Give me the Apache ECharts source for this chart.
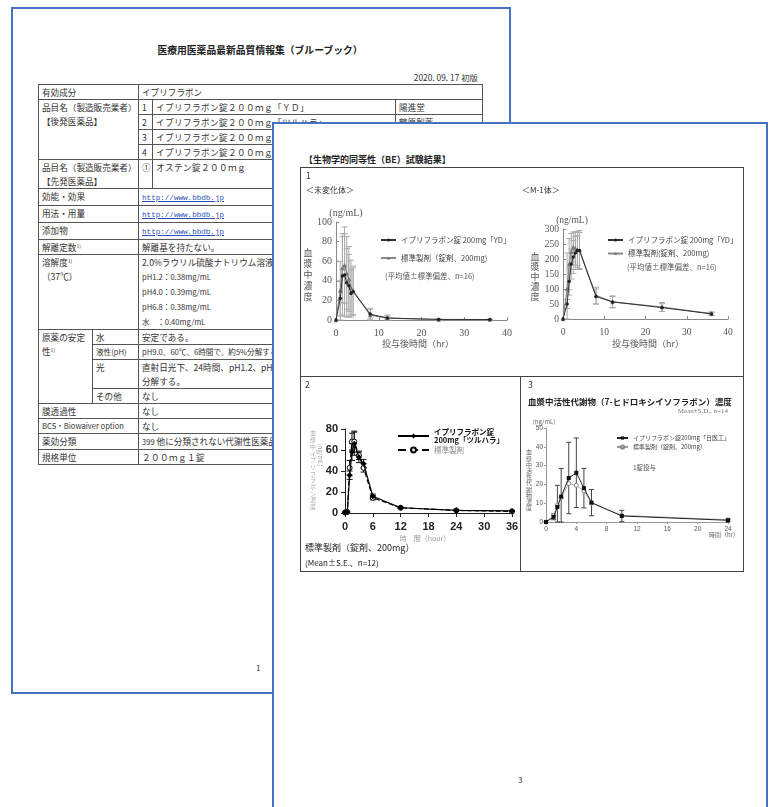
<!DOCTYPE html>
<html>
<head>
<meta charset="utf-8">
<script src="https://cdn.jsdelivr.net/npm/echarts@6/dist/echarts.min.js"></script>
<style>
  body { margin: 0; width: 769px; height: 807px; overflow: hidden; background: #fff; position: relative;
         font-family: "Noto Sans CJK JP", sans-serif; color: #333; }
  .abs { position: absolute; white-space: nowrap; }
  #back { left: 11px; top: 7px; width: 496px; height: 683px; border: 2px solid #4472c4; background: #fff; }
  #front { left: 272px; top: 122px; width: 492px; height: 700px; border: 2px solid #4472c4; border-bottom: none; background: #fff; }
  #tbl { position: absolute; left: 38px; top: 84px; width: 444px; border-collapse: collapse; table-layout: fixed;
         font-size: 8.6px; line-height: 14px; color: #333; }
  #tbl td { border: 1px solid #555; padding: 0 0 0 3px; white-space: nowrap; overflow: hidden; vertical-align: top; }
  #tbl .wide { letter-spacing: 0.4px; }
  #tbl a { color: #2a4fb5; font-family: "Liberation Mono", monospace; font-size: 7.6px; text-decoration: underline; }
  #tbl sup { font-size: 5px; vertical-align: 3px; line-height: 0; }
  #tbl .sm { font-size: 7.6px; }
  #frame { left: 300px; top: 167px; width: 442px; height: 403px; border: 1px solid #444; }
  #ch { position: absolute; left: 300px; top: 167px; width: 444px; height: 405px; }
</style>
</head>
<body>

<!-- back page -->
<div id="back" class="abs"></div>
<div class="abs" style="left:110px;top:44px;width:300px;text-align:center;font-size:9.8px;font-weight:bold;line-height:12px;color:#222">医療用医薬品最新品質情報集（ブルーブック）</div>
<div class="abs" style="left:360px;top:71px;width:118px;text-align:right;font-size:8.4px;line-height:12px">2020. 09. 17 初版</div>
<table id="tbl">
  <colgroup><col style="width:54px"><col style="width:46px"><col style="width:14px"><col style="width:243px"><col style="width:87px"></colgroup>
  <tr><td colspan="2">有効成分</td><td colspan="3">イプリフラボン</td></tr>
  <tr><td colspan="2" rowspan="4">品目名（製造販売業者）<br>【後発医薬品】</td><td>1</td><td class="wide">イプリフラボン錠２００ｍｇ「ＹＤ」</td><td>陽進堂</td></tr>
  <tr><td>2</td><td class="wide">イプリフラボン錠２００ｍｇ「ツルハラ」</td><td>鶴原製薬</td></tr>
  <tr><td>3</td><td class="wide">イプリフラボン錠２００ｍｇ「日医工」</td><td>日医工</td></tr>
  <tr><td>4</td><td class="wide">イプリフラボン錠２００ｍｇ「サワイ」</td><td>沢井製薬</td></tr>
  <tr><td colspan="2">品目名（製造販売業者）<br>【先発医薬品】</td><td>①</td><td class="wide">オステン錠２００ｍｇ</td><td>武田テバ薬品</td></tr>
  <tr><td colspan="2">効能・効果</td><td colspan="3"><a>http://www.bbdb.jp</a></td></tr>
  <tr><td colspan="2">用法・用量</td><td colspan="3"><a>http://www.bbdb.jp</a></td></tr>
  <tr><td colspan="2">添加物</td><td colspan="3"><a>http://www.bbdb.jp</a></td></tr>
  <tr><td colspan="2">解離定数<sup>1)</sup></td><td colspan="3">解離基を持たない。</td></tr>
  <tr><td colspan="2">溶解度<sup>1)</sup><br>（37℃）</td><td colspan="3">2.0%ラウリル硫酸ナトリウム溶液：0.41mg/mL<br><span class="sm">pH1.2：0.38mg/mL<br>pH4.0：0.39mg/mL<br>pH6.8：0.38mg/mL<br>水　：0.40mg/mL</span></td></tr>
  <tr><td rowspan="4">原薬の安定<br>性<sup>1)</sup></td><td>水</td><td colspan="3">安定である。</td></tr>
  <tr><td class="sm">液性(pH)</td><td colspan="3" class="sm">pH9.0、60℃、6時間で、約5%分解する。</td></tr>
  <tr><td>光</td><td colspan="3">直射日光下、24時間、pH1.2、pH6.8で約10%<br>分解する。</td></tr>
  <tr><td>その他</td><td colspan="3">なし</td></tr>
  <tr><td colspan="2">膜透過性</td><td colspan="3">なし</td></tr>
  <tr><td colspan="2" class="sm">BCS・Biowaiver option</td><td colspan="3">なし</td></tr>
  <tr><td colspan="2">薬効分類</td><td colspan="3"><span class="sm">399</span> 他に分類されない代謝性医薬品</td></tr>
  <tr><td colspan="2">規格単位</td><td colspan="3" class="wide">２００ｍｇ１錠</td></tr>
</table>
<div class="abs" style="left:256px;top:662px;font-size:8px;line-height:12px">1</div>

<!-- front page -->
<div id="front" class="abs"></div>
<div class="abs" style="left:304px;top:154px;font-size:9px;font-weight:bold;line-height:12px;color:#222">【生物学的同等性（BE）試験結果】</div>
<div id="frame" class="abs"></div>
<div class="abs" style="left:300px;top:376px;width:444px;height:1px;background:#444"></div>
<div class="abs" style="left:520px;top:376px;width:1px;height:195px;background:#444"></div>
<div class="abs" style="left:518px;top:774px;font-size:8px;line-height:12px">3</div>
<div id="ch"></div>

<script>
// 1: 未変化体 / M-1体 (平均値±標準偏差、n=16)
const t1 = [0, 1, 1.5, 2, 2.5, 3, 3.5, 4, 8, 12, 24, 36];
const parentYD = [0, 22, 45, 46, 38, 35, 27, 29, 6, 2, 0.6, 0.5];
const parentYDsd = [0, 18, 40, 42, 35, 32, 24, 24, 5, 2, 0.5, 0.3];
const parentStd = [0, 30, 53, 56, 48, 42, 33, 30, 5, 2, 0.5, 0.5];
const parentStdSd = [0, 30, 35, 39, 37, 33, 28, 25, 7, 3, 0.5, 0.3];
const m1YD = [0, 50, 125, 183, 207, 220, 228, 228, 75, 57, 38, 17];
const m1YDsd = [0, 15, 45, 50, 55, 55, 50, 60, 25, 18, 13, 5];
const m1Std = [0, 100, 183, 225, 240, 235, 232, 230, 78, 57, 40, 18];
const m1StdSd = [0, 120, 85, 60, 50, 55, 60, 65, 28, 20, 15, 6];
const xTicks1 = [0, 10, 20, 30, 40];
const yTicksParent = [0, 20, 40, 60, 80, 100];
const yTicksM1 = [0, 50, 100, 150, 200, 250, 300];

// 2: ツルハラ (Mean±S.E., n=12)
const t2 = [0, 0.5, 1, 1.5, 2, 3, 4, 6, 12, 24, 36];
const tsuruhara = [0.8, 1, 36, 58, 66, 53, 47, 16, 5, 2.5, 2];
const tsuruharaSe = [0, 0, 4, 8, 11, 5, 4, 2, 0.6, 0.3, 0.2];
const std2 = [0.5, 1, 43, 68, 68, 55, 43, 14.5, 5, 2.5, 1.5];
const std2Se = [0, 0, 7, 8, 10, 4, 4, 2, 0.6, 0.3, 0.2];
const xTicks2 = [0, 6, 12, 18, 24, 30, 36];
const yTicks2 = [0, 20, 40, 60, 80];

// 3: 7-ヒドロキシイソフラボン (Mean±S.D., n=14)
const t3 = [0, 1, 1.5, 2, 3, 4, 5, 6, 10, 24];
const nichiiko = [0, 2.7, 8, 13.5, 23.4, 26.2, 18, 10.3, 3.2, 0.9];
const nichiikoSd = [0, 1.5, 11.5, 15, 19, 18.5, 10.5, 7, 3, 0.8];
const std3 = [0, 3.5, 9, 13, 20.5, 19.5, 16.5, 10, 3.5, 1.2];
const xTicks3 = [0, 4, 8, 12, 16, 20, 24];
const yTicks3 = [0, 10, 20, 30, 40, 50];

const nameYD = 'イプリフラボン錠 200mg「YD」';
const nameStd1a = '標準製剤（錠剤、200mg)';
const nameStd1b = '標準製剤(錠剤、200mg)';
const nameTsu = 'イプリフラボン錠\n200mg「ツルハラ」';
const nameStd2 = '標準製剤';
const nameNichi = 'イプリフラボン錠200mg「日医工」';
const nameStd3 = '標準製剤（錠剤、200mg）';

const jp = '"Noto Sans CJK JP", sans-serif';
const serif = '"Liberation Serif", serif';

function pairs(xs, ys) { return xs.map((x, i) => [x, ys[i]]); }

function errBars(idx, xs, ys, es, color, cap) {
  return {
    type: 'custom', xAxisIndex: idx, yAxisIndex: idx, z: 1, silent: true,
    data: xs.map((x, i) => [x, ys[i], es[i]]),
    encode: { x: 0, y: 1 },
    renderItem(params, api) {
      const x = api.value(0), y = api.value(1), e = api.value(2);
      if (!e) return null;
      const hi = api.coord([x, y + e]);
      const lo = api.coord([x, Math.max(0, y - e)]);
      const st = { stroke: color, lineWidth: 1 };
      return { type: 'group', children: [
        { type: 'line', shape: { x1: hi[0], y1: hi[1], x2: lo[0], y2: lo[1] }, style: st },
        { type: 'line', shape: { x1: hi[0] - cap, y1: hi[1], x2: hi[0] + cap, y2: hi[1] }, style: st },
        { type: 'line', shape: { x1: lo[0] - cap, y1: lo[1], x2: lo[0] + cap, y2: lo[1] }, style: st }
      ]};
    }
  };
}

function valAxis(idx, ticks, o) {
  return {
    type: 'value', gridIndex: idx, min: ticks[0], max: ticks[ticks.length - 1], interval: ticks[1] - ticks[0],
    splitLine: { show: false },
    axisLine: { show: true, onZero: false, lineStyle: { color: o.color, width: 1 } },
    axisTick: { show: true, inside: o.inside, length: o.tick, lineStyle: { color: o.color } },
    axisLabel: { margin: o.margin, fontSize: o.size, color: o.label, fontFamily: o.font, fontWeight: o.weight || 'normal' }
  };
}

function txt(x, y, s, size, extra) {
  return { type: 'text', x: x, y: y, silent: true,
    style: Object.assign({ text: s, fontSize: size, fill: '#444', fontFamily: jp, align: 'left', verticalAlign: 'middle' }, extra || {}) };
}
function vtxt(x, y, s, size, lh, extra) {
  return txt(x, y, s.split('').join('\n'), size, Object.assign({ align: 'center', lineHeight: lh }, extra || {}));
}

const ax1 = { color: '#888', inside: true, tick: 3, size: 10, label: '#555', font: serif };
const ax2 = { color: '#222', inside: false, tick: 4, size: 11, label: '#222', font: '"Liberation Sans", sans-serif', weight: 'bold' };
const ax3 = { color: '#999', inside: false, tick: 2, size: 6.5, label: '#555', font: '"Liberation Sans", sans-serif' };

const chart = echarts.init(document.getElementById('ch'));
chart.setOption({
  animation: false,
  grid: [
    { left: 36, top: 55, width: 171, height: 98 },
    { left: 263, top: 62, width: 165, height: 90 },
    { left: 45, top: 262, width: 167, height: 84 },
    { left: 246, top: 261, width: 182, height: 94 }
  ],
  xAxis: [
    valAxis(0, xTicks1, Object.assign({}, ax1, { margin: 8 })),
    valAxis(1, xTicks1, Object.assign({}, ax1, { margin: 8, size: 9.5 })),
    valAxis(2, xTicks2, Object.assign({}, ax2, { margin: 8 })),
    valAxis(3, xTicks3, Object.assign({}, ax3, { margin: 4 }))
  ],
  yAxis: [
    valAxis(0, yTicksParent, Object.assign({}, ax1, { margin: 4 })),
    valAxis(1, yTicksM1, Object.assign({}, ax1, { margin: 4, size: 9.5 })),
    valAxis(2, yTicks2, Object.assign({}, ax2, { margin: 7 })),
    valAxis(3, yTicks3, Object.assign({}, ax3, { margin: 3 }))
  ],
  legend: [
    { left: 80, top: 67, padding: 0, orient: 'vertical', itemWidth: 15, itemHeight: 4, itemGap: 6,
      textStyle: { fontSize: 7.5, color: '#444', fontFamily: jp, lineHeight: 12 }, data: [nameYD, nameStd1a] },
    { left: 307, top: 67, padding: 0, orient: 'vertical', itemWidth: 15, itemHeight: 4, itemGap: 1.5,
      textStyle: { fontSize: 7.5, color: '#444', fontFamily: jp, lineHeight: 12 }, data: [nameYD, nameStd1b] },
    { left: 97, top: 261, padding: 0, orient: 'vertical', itemWidth: 31, itemHeight: 6, itemGap: 2,
      textStyle: { fontSize: 7.5, color: '#111', fontFamily: jp, lineHeight: 8, fontWeight: 'bold' },
      data: [nameTsu, { name: nameStd2, textStyle: { color: '#888', fontWeight: 'normal' } }] },
    { left: 316, top: 267, padding: 0, orient: 'vertical', itemWidth: 11, itemHeight: 4, itemGap: 1, itemTextGap: 3,
      textStyle: { fontSize: 6, color: '#444', fontFamily: jp, lineHeight: 8 }, data: [nameNichi, nameStd3] }
  ],
  graphic: [
    txt(6, 9, '1', 8.5, { fill: '#333' }),
    txt(6, 23, '＜未変化体＞', 8, { fill: '#333' }),
    txt(222, 23, '＜M-1体＞', 8, { fill: '#333' }),
    txt(46, 46, '(ng/mL)', 10, { align: 'center', fontFamily: serif, fill: '#555' }),
    vtxt(8, 108, '血漿中濃度', 9, 11, { fill: '#555' }),
    txt(118, 177, '投与後時間（hr）', 9, { align: 'center', fill: '#555' }),
    txt(85, 109, '(平均値±標準偏差、n=16)', 7.5, { fill: '#555' }),
    txt(272, 53, '(ng/mL)', 9.5, { align: 'center', fontFamily: serif, fill: '#555' }),
    vtxt(235, 110, '血漿中濃度', 9, 10, { fill: '#555' }),
    txt(348, 177, '投与後時間（hr）', 9, { align: 'center', fill: '#555' }),
    txt(327, 100, '(平均値±標準偏差、n=16)', 7.5, { fill: '#555' }),
    txt(5, 218, '2', 8.5, { fill: '#333' }),
    vtxt(13, 303, '血漿中イプリフラボン濃度', 6, 6.7, { fill: '#aaa' }),
    Object.assign(txt(20, 288, '（ng/mL）', 6, { align: 'center', fill: '#aaa' }), { rotation: -Math.PI / 2 }),
    txt(125, 371, '時　間（hour）', 7, { align: 'center', fill: '#999' }),
    txt(5, 381, '標準製剤（錠剤、200mg）', 9, { fill: '#222' }),
    txt(5, 396, '(Mean±S.E.、n=12)', 8, { fill: '#222' }),
    txt(228, 218, '3', 8.5, { fill: '#333' }),
    txt(228, 235, '血漿中活性代謝物（7-ヒドロキシイソフラボン）濃度', 8.5, { fill: '#222', fontWeight: 'bold' }),
    txt(428, 244, 'Mean±S.D., n=14', 7, { align: 'right', fontFamily: serif, fill: '#777' }),
    txt(244, 255, '(ng/mL)', 6, { align: 'center', fill: '#666' }),
    vtxt(229, 313, '血漿中活性代謝物濃度', 6, 6.2, { fill: '#666' }),
    txt(424, 368, '時間（hr）', 6, { align: 'center', fill: '#666' }),
    txt(333, 301, '1錠投与', 6.5, { fill: '#555' })
  ],
  series: [
    errBars(0, t1, parentYD, parentYDsd, '#aaa', 3),
    errBars(0, t1, parentStd, parentStdSd, '#aaa', 3),
    { name: nameYD, type: 'line', xAxisIndex: 0, yAxisIndex: 0, z: 3, data: pairs(t1, parentYD),
      symbol: 'circle', symbolSize: 3.5, itemStyle: { color: '#222' }, lineStyle: { color: '#333', width: 1 } },
    { name: nameStd1a, type: 'line', xAxisIndex: 0, yAxisIndex: 0, z: 2, data: pairs(t1, parentStd),
      symbol: 'triangle', symbolSize: 4.5, itemStyle: { color: '#777' }, lineStyle: { color: '#888', width: 1.2 } },

    errBars(1, t1, m1YD, m1YDsd, '#aaa', 3),
    errBars(1, t1, m1Std, m1StdSd, '#aaa', 3),
    { name: nameYD, type: 'line', xAxisIndex: 1, yAxisIndex: 1, z: 3, data: pairs(t1, m1YD),
      symbol: 'circle', symbolSize: 3.5, itemStyle: { color: '#222' }, lineStyle: { color: '#333', width: 1 } },
    { name: nameStd1b, type: 'line', xAxisIndex: 1, yAxisIndex: 1, z: 2, data: pairs(t1, m1Std),
      symbol: 'triangle', symbolSize: 4.5, itemStyle: { color: '#777' }, lineStyle: { color: '#888', width: 1.2 } },

    errBars(2, t2, tsuruhara, tsuruharaSe, '#111', 3),
    errBars(2, t2, std2, std2Se, '#111', 3),
    { name: nameTsu, type: 'line', xAxisIndex: 2, yAxisIndex: 2, z: 3, data: pairs(t2, tsuruhara),
      symbol: 'diamond', symbolSize: 6, itemStyle: { color: '#000' }, lineStyle: { color: '#000', width: 1.2 } },
    { name: nameStd2, type: 'line', xAxisIndex: 2, yAxisIndex: 2, z: 2, data: pairs(t2, std2),
      symbol: 'circle', symbolSize: 5, itemStyle: { color: '#fff', borderColor: '#000', borderWidth: 1 },
      lineStyle: { color: '#000', width: 1.2, type: 'dashed' } },

    errBars(3, t3, nichiiko, nichiikoSd, '#444', 2.5),
    { name: nameNichi, type: 'line', xAxisIndex: 3, yAxisIndex: 3, z: 3, data: pairs(t3, nichiiko),
      symbol: 'rect', symbolSize: 4, itemStyle: { color: '#111' }, lineStyle: { color: '#222', width: 1 } },
    { name: nameStd3, type: 'line', xAxisIndex: 3, yAxisIndex: 3, z: 2, data: pairs(t3, std3),
      symbol: 'circle', symbolSize: 4, itemStyle: { color: '#fff', borderColor: '#888', borderWidth: 1 },
      lineStyle: { color: '#999', width: 0.8 } }
  ]
});
</script>
</body>
</html>
